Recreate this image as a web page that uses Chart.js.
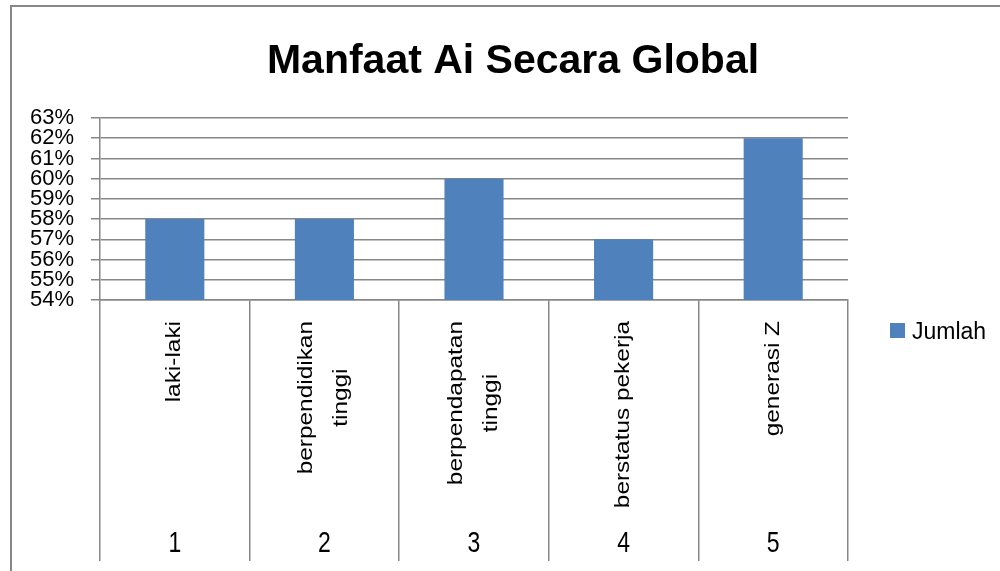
<!DOCTYPE html>
<html>
<head>
<meta charset="utf-8">
<script src="https://cdn.jsdelivr.net/npm/chart.js"></script>
<style>
  body { margin: 0; background: #fff; }
  #wrap { width: 1000px; height: 571px; position: relative; }
</style>
</head>
<body>
<div id="wrap"><canvas id="myChart1"></canvas></div>
<script>
/*--data--*/
var chartTitle = 'Manfaat Ai Secara Global';
var seriesName = 'Jumlah';
var categories = [['laki-laki'], ['berpendidikan', 'tinggi'], ['berpendapatan', 'tinggi'], ['berstatus pekerja'], ['generasi Z']];
var groupNumbers = ['1', '2', '3', '4', '5'];
var jumlah = [58, 58, 60, 57, 62];
var yMin = 54, yMax = 63, yStep = 1;

var barColor = '#4f81bd';
var lineColor = '#878787';
var font = '"Liberation Sans", Arial, sans-serif';

/*--drawing of title, category labels, legend, frame--*/
var excelLook = {
  id: 'excelLook',
  beforeDraw: function(chart) {
    var ctx = chart.ctx;
    ctx.save();
    ctx.strokeStyle = lineColor;
    ctx.lineWidth = 2;
    ctx.beginPath();
    ctx.moveTo(11, 571);
    ctx.lineTo(11, 6);
    ctx.lineTo(1000, 6);
    ctx.stroke();
    ctx.restore();
  },
  afterDraw: function(chart) {
    var ctx = chart.ctx;
    var xs = chart.scales.x;
    var area = chart.chartArea;
    ctx.save();
    ctx.fillStyle = '#000';

    // title
    ctx.font = 'bold 41px ' + font;
    ctx.textAlign = 'center';
    ctx.textBaseline = 'alphabetic';
    ctx.fillText(chartTitle, 513, 73);

    // rotated category names
    categories.forEach(function(lines, i) {
      var cx = xs.getPixelForValue(i);
      ctx.save();
      ctx.translate(cx, area.bottom + 21);
      ctx.rotate(-Math.PI / 2);
      ctx.scale(1.22, 1);
      ctx.font = '20px ' + font;
      ctx.textAlign = 'center';
      ctx.textBaseline = 'middle';
      var w = Math.max.apply(null, lines.map(function(l) { return ctx.measureText(l).width; }));
      lines.forEach(function(l, j) {
        ctx.fillText(l, -w / 2, (j - (lines.length - 1) / 2) * 35);
      });
      ctx.restore();
    });

    // group numbers
    groupNumbers.forEach(function(n, i) {
      var cx = xs.getPixelForValue(i);
      ctx.save();
      ctx.translate(cx, 552);
      ctx.scale(1, 1.25);
      ctx.font = '23px ' + font;
      ctx.textAlign = 'center';
      ctx.textBaseline = 'alphabetic';
      ctx.fillText(n, 0, 0);
      ctx.restore();
    });

    // legend
    ctx.fillStyle = barColor;
    ctx.fillRect(890, 323, 15, 15);
    ctx.fillStyle = '#000';
    ctx.font = '23px ' + font;
    ctx.textAlign = 'left';
    ctx.fillText(seriesName, 912, 339);
    ctx.restore();
  }
};

var ctx = document.getElementById('myChart1').getContext('2d');
var myChart1 = new Chart(ctx, {
  type: 'bar',
  plugins: [excelLook],
  data: {
    labels: categories,
    datasets: [{
      label: seriesName,
      data: jumlah,
      backgroundColor: barColor,
      borderWidth: 0,
      categoryPercentage: 1,
      barPercentage: 0.395
    }]
  },
  options: {
    responsive: true,
    maintainAspectRatio: false,
    animation: false,
    layout: { padding: { left: 0, top: 118, right: 152, bottom: 10 } },
    plugins: {
      legend: { display: false },
      title: { display: false },
      tooltip: { enabled: false }
    },
    scales: {
      x: {
        offset: true,
        ticks: { display: false },
        grid: {
          offset: true,
          drawOnChartArea: false,
          tickLength: 261,
          color: lineColor,
          lineWidth: 1.5
        },
        border: { color: lineColor, width: 1.5 },
        afterFit: function(scale) { scale.height = 261; }
      },
      y: {
        min: yMin,
        max: yMax,
        ticks: {
          stepSize: yStep,
          autoSkip: false,
          padding: 17,
          color: '#000',
          font: { family: font, size: 22 },
          callback: function(v) { return v + '%'; }
        },
        grid: { color: lineColor, lineWidth: 1.5, tickLength: 9 },
        border: { color: lineColor, width: 1.5 },
        afterFit: function(scale) { scale.width = 100; }
      }
    }
  }
});
</script>
</body>
</html>
